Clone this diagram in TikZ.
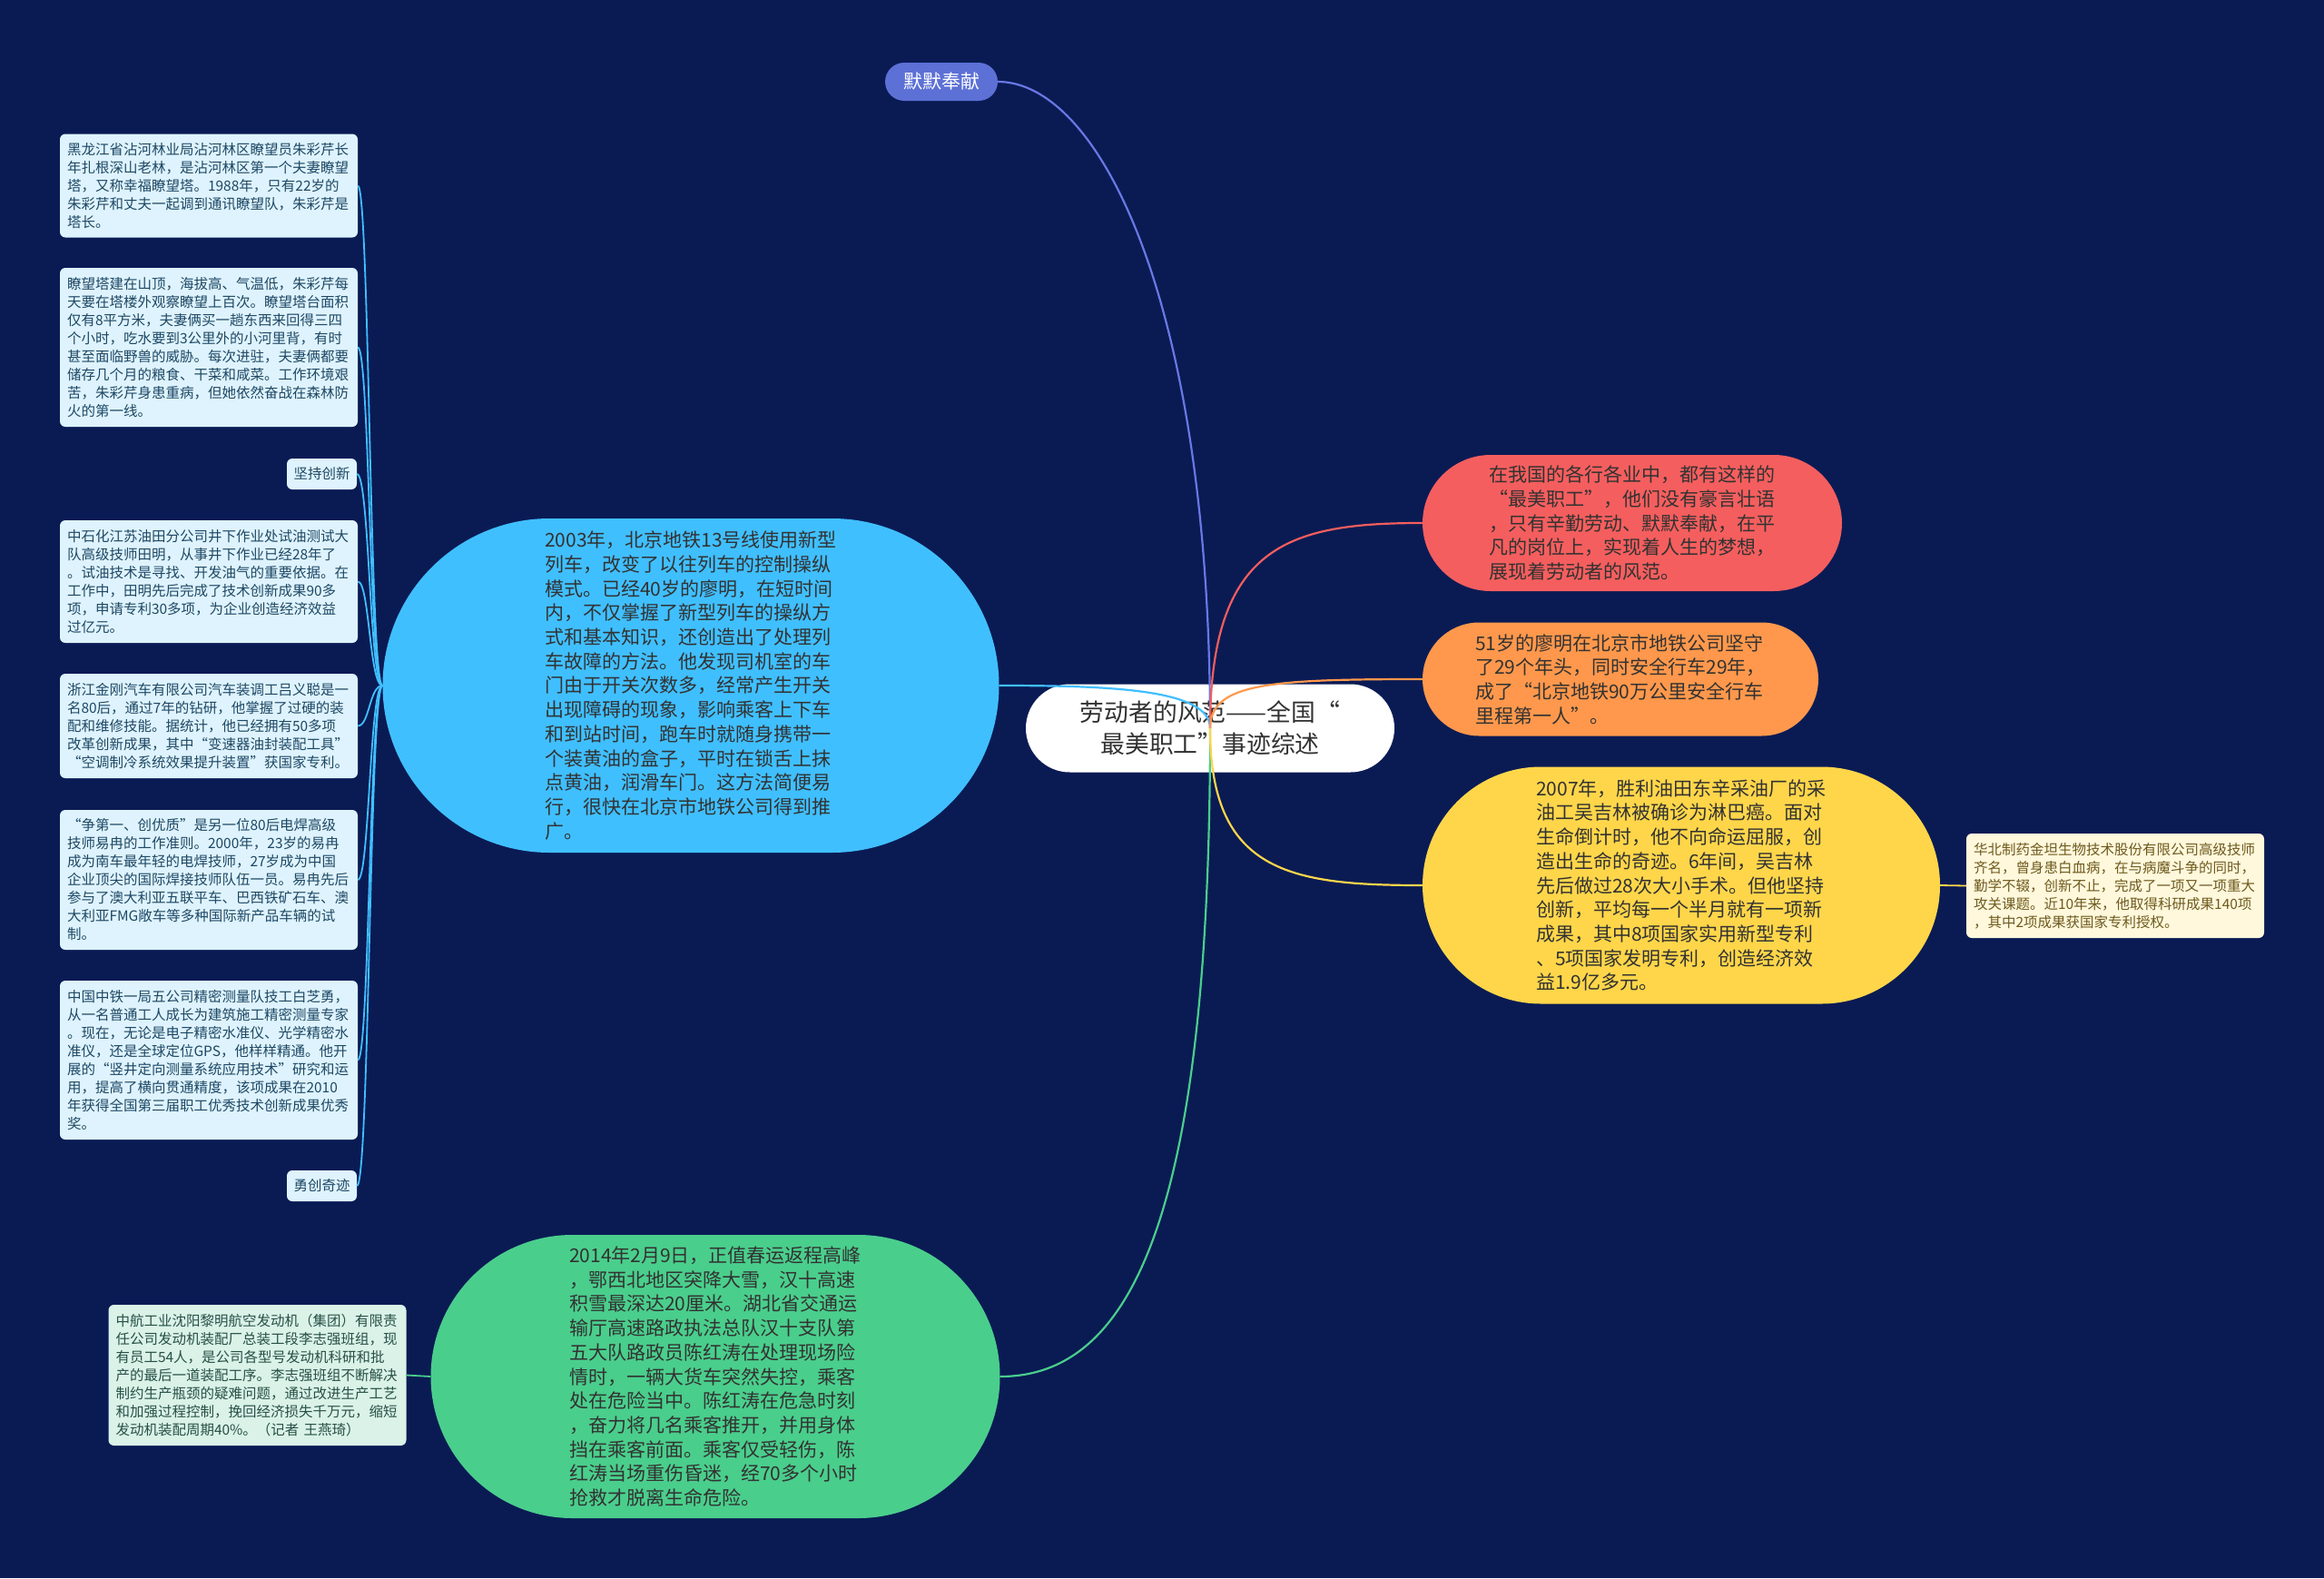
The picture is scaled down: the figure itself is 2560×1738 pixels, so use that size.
\documentclass[tikz,border=0pt]{standalone}
\usepackage{fontspec}
\setmainfont{Noto Sans CJK SC}
\usetikzlibrary{shapes.misc}
\definecolor{bg}{RGB}{10,27,84}
\definecolor{cpurple}{RGB}{92,112,214}
\definecolor{lpurple}{RGB}{105,120,228}
\definecolor{cblue}{RGB}{64,191,255}
\definecolor{cgreen}{RGB}{74,206,140}
\definecolor{cred}{RGB}{245,94,94}
\definecolor{corange}{RGB}{255,152,76}
\definecolor{cyellow}{RGB}{255,214,74}
\definecolor{lbfill}{RGB}{222,243,253}
\definecolor{lbtext}{RGB}{30,72,100}
\definecolor{mintfill}{RGB}{218,242,232}
\definecolor{minttext}{RGB}{40,80,70}
\definecolor{creamfill}{RGB}{255,248,220}
\definecolor{creamtext}{RGB}{110,90,30}
\definecolor{txtdark}{RGB}{50,50,50}
\begin{document}
\begin{tikzpicture}[x=1pt,y=-1pt,
  bignode/.style={rounded rectangle, inner sep=0pt, text=txtdark, align=left,
    font=\fontsize{21}{26.7}\selectfont},
  smallbox/.style={rectangle, rounded corners=6pt, inner xsep=8pt, inner ysep=0pt,
    text width=312pt, align=left, minimum width=326pt,
    font=\fontsize{15.5}{20}\selectfont},
  lbbox/.style={smallbox, fill=lbfill, text=lbtext},
  lblabel/.style={rectangle, rounded corners=6pt, fill=lbfill, text=lbtext,
    minimum width=77pt, minimum height=34pt, inner sep=0pt,
    font=\fontsize{15.5}{20}\selectfont},
  conn/.style={line width=2.2pt},
]
\fill[bg] (0,0) rectangle (2560,1738);
\useasboundingbox (0,0) rectangle (2560,1738);

% central node
\node[rounded rectangle, fill=white, text=txtdark, minimum width=406pt, minimum height=97pt,
  inner sep=0pt, align=center, font=\fontsize{26.8}{35}\selectfont] (root) at (1333,802)
  {劳动者的风范——全国“\\最美职工”事迹综述};

% top purple node
\node[rounded rectangle, fill=cpurple, text=white, minimum width=124pt, minimum height=42pt,
  inner sep=0pt, font=\fontsize{21}{26}\selectfont] (mm) at (1037,90) {默默奉献};

% blue node
\node[bignode, fill=cblue, minimum width=679pt, minimum height=368pt] (blue) at (761,755)
  {2003年，北京地铁13号线使用新型\\列车，改变了以往列车的控制操纵\\模式。已经40岁的廖明，在短时间\\内，不仅掌握了新型列车的操纵方\\式和基本知识，还创造出了处理列\\车故障的方法。他发现司机室的车\\门由于开关次数多，经常产生开关\\出现障碍的现象，影响乘客上下车\\和到站时间，跑车时就随身携带一\\个装黄油的盒子，平时在锁舌上抹\\点黄油，润滑车门。这方法简便易\\行，很快在北京市地铁公司得到推\\广。};

% green node
\node[bignode, fill=cgreen, minimum width=627pt, minimum height=312pt] (green) at (788,1516)
  {2014年2月9日，正值春运返程高峰\\，鄂西北地区突降大雪，汉十高速\\积雪最深达20厘米。湖北省交通运\\输厅高速路政执法总队汉十支队第\\五大队路政员陈红涛在处理现场险\\情时，一辆大货车突然失控，乘客\\处在危险当中。陈红涛在危急时刻\\，奋力将几名乘客推开，并用身体\\挡在乘客前面。乘客仅受轻伤，陈\\红涛当场重伤昏迷，经70多个小时\\抢救才脱离生命危险。};

% red node
\node[bignode, fill=cred, minimum width=462pt, minimum height=150pt] (red) at (1798,576)
  {在我国的各行各业中，都有这样的\\“最美职工”，他们没有豪言壮语\\，只有辛勤劳动、默默奉献，在平\\凡的岗位上，实现着人生的梦想，\\展现着劳动者的风范。};

% orange node
\node[bignode, fill=corange, minimum width=436pt, minimum height=125pt] (orange) at (1785,748)
  {51岁的廖明在北京市地铁公司坚守\\了29个年头，同时安全行车29年，\\成了“北京地铁90万公里安全行车\\里程第一人”。};

% yellow node
\node[bignode, fill=cyellow, minimum width=570pt, minimum height=261pt] (yellow) at (1852,975)
  {2007年，胜利油田东辛采油厂的采\\油工吴吉林被确诊为淋巴癌。面对\\生命倒计时，他不向命运屈服，创\\造出生命的奇迹。6年间，吴吉林\\先后做过28次大小手术。但他坚持\\创新，平均每一个半月就有一项新\\成果，其中8项国家实用新型专利\\、5项国家发明专利，创造经济效\\益1.9亿多元。};

% left boxes (children of blue)
\node[lbbox, minimum height=114pt] (b1) at (230,204.5)
  {黑龙江省沾河林业局沾河林区瞭望员朱彩芹长\\年扎根深山老林，是沾河林区第一个夫妻瞭望\\塔，又称幸福瞭望塔。1988年，只有22岁的\\朱彩芹和丈夫一起调到通讯瞭望队，朱彩芹是\\塔长。};
\node[lbbox, minimum height=175pt] (b2) at (230,382.5)
  {瞭望塔建在山顶，海拔高、气温低，朱彩芹每\\天要在塔楼外观察瞭望上百次。瞭望塔台面积\\仅有8平方米，夫妻俩买一趟东西来回得三四\\个小时，吃水要到3公里外的小河里背，有时\\甚至面临野兽的威胁。每次进驻，夫妻俩都要\\储存几个月的粮食、干菜和咸菜。工作环境艰\\苦，朱彩芹身患重病，但她依然奋战在森林防\\火的第一线。};
\node[lblabel] (k1) at (354.5,522) {坚持创新};
\node[lbbox, minimum height=135pt] (b3) at (230,640.5)
  {中石化江苏油田分公司井下作业处试油测试大\\队高级技师田明，从事井下作业已经28年了\\。试油技术是寻找、开发油气的重要依据。在\\工作中，田明先后完成了技术创新成果90多\\项，申请专利30多项，为企业创造经济效益\\过亿元。};
\node[lbbox, minimum height=115pt] (b4) at (230,799.5)
  {浙江金刚汽车有限公司汽车装调工吕义聪是一\\名80后，通过7年的钻研，他掌握了过硬的装\\配和维修技能。据统计，他已经拥有50多项\\改革创新成果，其中“变速器油封装配工具”\\“空调制冷系统效果提升装置”获国家专利。};
\node[lbbox, minimum height=154pt] (b5) at (230,969)
  {“争第一、创优质”是另一位80后电焊高级\\技师易冉的工作准则。2000年，23岁的易冉\\成为南车最年轻的电焊技师，27岁成为中国\\企业顶尖的国际焊接技师队伍一员。易冉先后\\参与了澳大利亚五联平车、巴西铁矿石车、澳\\大利亚FMG敞车等多种国际新产品车辆的试\\制。};
\node[lbbox, minimum height=175pt] (b6) at (230,1167.5)
  {中国中铁一局五公司精密测量队技工白芝勇，\\从一名普通工人成长为建筑施工精密测量专家\\。现在，无论是电子精密水准仪、光学精密水\\准仪，还是全球定位GPS，他样样精通。他开\\展的“竖井定向测量系统应用技术”研究和运\\用，提高了横向贯通精度，该项成果在2010\\年获得全国第三届职工优秀技术创新成果优秀\\奖。};
\node[lblabel] (k2) at (354.5,1306) {勇创奇迹};

% green child
\node[smallbox, fill=mintfill, text=minttext, minimum height=155pt] (zh) at (283.5,1514.5)
  {中航工业沈阳黎明航空发动机（集团）有限责\\任公司发动机装配厂总装工段李志强班组，现\\有员工54人，是公司各型号发动机科研和批\\产的最后一道装配工序。李志强班组不断解决\\制约生产瓶颈的疑难问题，通过改进生产工艺\\和加强过程控制，挽回经济损失千万元，缩短\\发动机装配周期40\%。（记者 王燕琦）};

% yellow child
\node[smallbox, fill=creamfill, text=creamtext, minimum height=115pt] (hb) at (2330,975.5)
  {华北制药金坦生物技术股份有限公司高级技师\\齐名，曾身患白血病，在与病魔斗争的同时，\\勤学不辍，创新不止，完成了一项又一项重大\\攻关课题。近10年来，他取得科研成果140项\\，其中2项成果获国家专利授权。};

% connectors from root
\draw[conn, lpurple] (root.center) .. controls (1333,330) and (1210,90) .. (mm.east);
\draw[conn, cblue] (root.center) .. controls (1333,760) and (1230,755) .. (blue.east);
\draw[conn, cgreen] (root.center) .. controls (1333,1330) and (1250,1516) .. (green.east);
\draw[conn, cred] (root.center) .. controls (1333,600) and (1420,576) .. (red.west);
\draw[conn, corange] (root.center) .. controls (1333,752) and (1400,748) .. (orange.west);
\draw[conn, cyellow] (root.center) .. controls (1333,960) and (1420,975) .. (yellow.west);

% blue children connectors
\foreach \n in {b1,b2,k1,b3,b4,b5,b6,k2}{
  \draw[conn, cblue, line width=1.8pt] (blue.west) .. controls (407,755) and (407,0|-\n.east) .. (\n.east);
}
% green and yellow children
\draw[conn, cgreen, line width=1.8pt] (green.west) -- (zh.east);
\draw[conn, cyellow, line width=1.8pt] (yellow.east) -- (hb.west);
\end{tikzpicture}
\end{document}
